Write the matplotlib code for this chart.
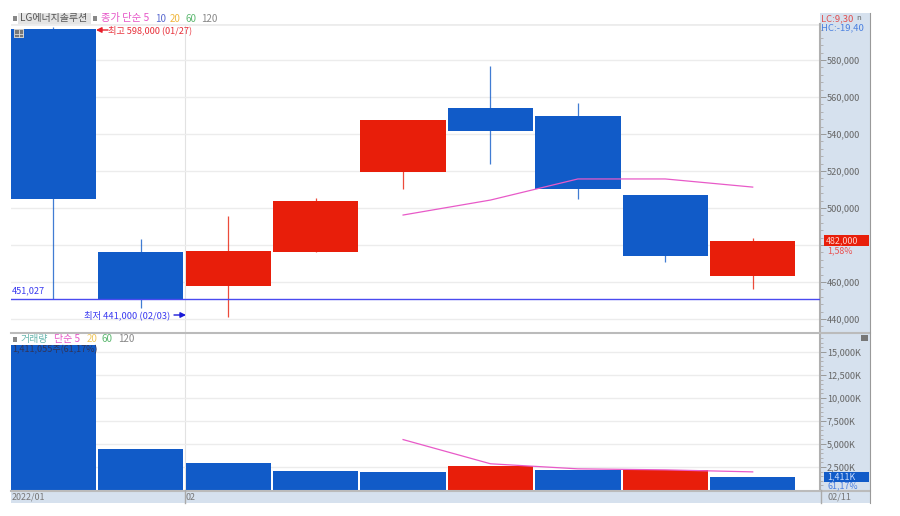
import matplotlib
matplotlib.use('Agg')
import matplotlib.pyplot as plt
from matplotlib.patches import Rectangle, FancyArrowPatch

plt.rcParams['font.family'] = ['Noto Sans CJK KR', 'DejaVu Sans']

# price data
opens = [597000, 476200, 457800, 476200, 519500, 554000, 549700, 507000, 463200]
closes = [504900, 450300, 476800, 503800, 547600, 541600, 510300, 474000, 482000]
highs = [598000, 483200, 495700, 505400, 547600, 576800, 556800, 507000, 483800]
lows = [451027, 446000, 441000, 476200, 510300, 523800, 504900, 470800, 456200]
volumes = [15760, 4457, 2935, 2065, 1957, 2609, 2120, 2228, 1411]
vol_colors = ['b', 'b', 'b', 'b', 'b', 'r', 'b', 'r', 'b']
ma5_x = [4, 5, 6, 7, 8]
ma5 = [496200, 504300, 515700, 515700, 511300]
vol_ma5 = [5480, 2850, 2300, 2190, 1970]
price_ticks = [440000, 460000, 480000, 500000, 520000, 540000, 560000, 580000]
# 480,000 sits under the current price box in the reference
price_labels = ['440,000', '460,000', '', '500,000', '520,000', '540,000', '560,000', '580,000']
vol_ticks = [2500, 5000, 7500, 10000, 12500, 15000]
vol_labels = ['2,500K', '5,000K', '7,500K', '10,000K', '12,500K', '15,000K']

RED = '#e81e0a'
BLUE = '#115bc8'
PANEL = '#d6e1ee'
GRID = '#ececec'
W, H = 900, 516


def fx(x):
    return x / W


def fy(y):
    return 1 - y / H


def label(x, y, s, color='#666666', size=6.6, **kw):
    kw.setdefault('va', 'center')
    fig.text(fx(x), fy(y), s, color=color, fontsize=size, zorder=20, **kw)


def box(x, y, w, h, color, zorder=10):
    # rectangle in reference pixels, y is the top edge
    fig.add_artist(Rectangle((fx(x), fy(y + h)), w / W, h / H, transform=fig.transFigure,
                             fc=color, ec='none', zorder=zorder))


fig = plt.figure(figsize=(9, 5.16), dpi=100)

# axis panel and date strip behind the plots
box(820, 13, 50, 490, PANEL, zorder=-2)
box(11, 490, 859, 13, PANEL, zorder=-2)

ax = fig.add_axes([fx(11), fy(332), 809 / W, 308 / H])
ax2 = fig.add_axes([fx(11), fy(490), 809 / W, 157 / H])

xlim = (-0.486, 8.77)
for a in [ax, ax2]:
    a.set_xlim(*xlim)
    a.set_xticks([])
    a.grid(True, axis='y', color=GRID, lw=1)
    a.set_axisbelow(True)
    a.axvline(1.5, color='#e2e2e2', lw=0.8, zorder=0)
    a.yaxis.tick_right()
    a.tick_params(axis='y', length=4, width=0.7, color='#999999', labelcolor='#666666', labelsize=6.6, pad=1)
    a.tick_params(axis='y', which='minor', length=2, width=0.6, color='#aaaaaa')
    for s in ['top', 'left', 'bottom']:
        a.spines[s].set_visible(False)
    a.spines['right'].set_color('#b0b0b0')
    a.spines['right'].set_linewidth(1.5)

# candles
ax.set_ylim(432973, 599459)
ax.set_yticks(price_ticks)
ax.set_yticklabels(price_labels)
ax.set_yticks(range(436000, 600000, 4000), minor=True)
for i in range(len(opens)):
    c = RED if closes[i] >= opens[i] else BLUE
    ax.vlines(i, lows[i], highs[i], color=c, lw=0.9, zorder=2, alpha=0.8)
    ax.bar(i, abs(closes[i] - opens[i]), bottom=min(opens[i], closes[i]), width=0.975, color=c, zorder=3)
ax.plot(ma5_x, ma5, color='#e85ac8', lw=0.9, zorder=4)
ax.axhline(451027, color='#4a4af0', lw=1, zorder=4)
ax.axhline(599459, color=GRID, lw=2)

# volume
ax2.set_ylim(0, 17065)
ax2.set_yticks(vol_ticks)
ax2.set_yticklabels(vol_labels)
ax2.set_yticks(range(500, 17000, 500), minor=True)
ax2.bar(range(len(volumes)), volumes, width=0.975, color=[RED if c == 'r' else BLUE for c in vol_colors], zorder=3)
ax2.plot(ma5_x, vol_ma5, color='#e85ac8', lw=0.9, zorder=4)

# separators
fig.add_artist(plt.Line2D([fx(11), fx(870)], [fy(332.5), fy(332.5)], color='#bbbbbb', lw=1.5))
fig.add_artist(plt.Line2D([fx(11), fx(870)], [fy(490.5), fy(490.5)], color='#bbbbbb', lw=1.5))
fig.add_artist(plt.Line2D([fx(870), fx(870)], [fy(13), fy(503)], color='#999999', lw=0.8))
fig.add_artist(plt.Line2D([fx(185), fx(185)], [fy(490), fy(503)], color='#aaaaaa', lw=1))
fig.add_artist(plt.Line2D([fx(821), fx(821)], [fy(490), fy(503)], color='#aaaaaa', lw=1))

# top legend
box(18, 13, 73, 11, '#e4e4e4', zorder=-1)
box(14, 29, 10, 9, '#cccccc', zorder=15)
box(15, 30, 8, 7, '#777777', zorder=16)
fig.add_artist(plt.Line2D([fx(15), fx(23)], [fy(33.5), fy(33.5)], color='#dddddd', lw=0.6, zorder=17))
fig.add_artist(plt.Line2D([fx(19), fx(19)], [fy(30), fy(37)], color='#dddddd', lw=0.6, zorder=17))
box(13, 16, 4, 5, '#888888')
box(93, 16, 4, 5, '#888888')
label(20, 18.5, 'LG에너지솔루션', '#555555', 7.2)
label(101, 18.5, '종가 단순 5', '#e655c8', 7.4)
label(155, 18.5, '10', '#5a6ad0', 7)
label(170, 18.5, '20', '#f0b840', 7)
label(185, 18.5, '60', '#5cb870', 7)
label(201, 18.5, '120', '#888888', 7)

label(108, 30, '최고 598,000 (01/27)', '#e8303a', 6.6)
label(12, 291, '451,027', '#3a3af0', 6.6)
label(84, 315, '최저 441,000 (02/03)', '#3a3af0', 6.7)
fig.add_artist(FancyArrowPatch((fx(108), fy(30)), (fx(96), fy(30)), transform=fig.transFigure,
                               arrowstyle='-|>', mutation_scale=8, color='#e81e2a', lw=1, shrinkA=0, shrinkB=0, zorder=15))
fig.add_artist(FancyArrowPatch((fx(174), fy(315)), (fx(186), fy(315)), transform=fig.transFigure,
                               arrowstyle='-|>', mutation_scale=8, color='#1a1ad8', lw=1, shrinkA=0, shrinkB=0, zorder=15))

# right corner labels
label(821, 18.5, 'LC:9,30', '#e05050', 6.8)
label(821, 27.5, 'HC:-19,40', '#4a80e0', 6.8)
label(856, 18.5, 'n', '#666666', 5.5)

# current price boxes
box(824, 235.5, 45, 10, RED)
label(826, 240.5, '482,000', '#ffd0c8', 6.4)
label(827, 250.5, '1,58%', '#e85050', 6.4)
box(824, 472, 45, 10, BLUE)
label(827, 477, '1,411K', '#c8dcff', 6.4)
label(827, 486, '61,17%', '#4a80e0', 6.4)
box(861, 335, 7, 6, '#777777')

# volume legend
box(13, 337, 4, 5, '#888888')
label(21, 339, '거래량', '#6ab8b0', 7.2)
label(54, 339, '단순 5', '#e655c8', 7.2)
label(87, 339, '20', '#f0c860', 7)
label(102, 339, '60', '#5cb870', 7)
label(118, 339, '120', '#888888', 7)
label(12, 349.5, '1,411,055주(61,17%)', '#333355', 6.5)

# dates
label(12, 497, '2022/01', '#777777', 6.4)
label(186, 497, '02', '#777777', 6.4)
label(827, 497, '02/11', '#777777', 6.6)

plt.savefig('out.png', dpi=100)
